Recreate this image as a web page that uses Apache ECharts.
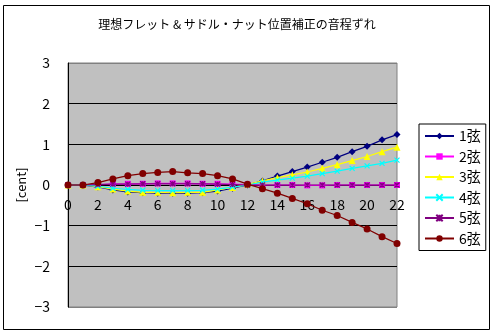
<!DOCTYPE html>
<html><head><meta charset="utf-8">
<script src="https://cdn.jsdelivr.net/npm/echarts@6/dist/echarts.min.js"></script>
<style>html,body{margin:0;padding:0;background:#fff}#c{width:494px;height:334px}</style>
</head><body><div id="c"></div>
<script>
const titleText = '理想フレット & サドル・ナット位置補正の音程ずれ';
const frets = ['0','1','2','3','4','5','6','7','8','9','10','11','12','13','14','15','16','17','18','19','20','21','22'];
const yTicks = [-3,-2,-1,0,1,2,3];
const names = ['1弦','2弦','3弦','4弦','5弦','6弦'];
const s1 = [0,0,-0.05,-0.12,-0.17,-0.19,-0.2,-0.2,-0.2,-0.19,-0.15,-0.08,0,0.1,0.22,0.33,0.44,0.56,0.68,0.82,0.95,1.11,1.24];
const s2 = [0,0,0.01,0.02,0.03,0.03,0.04,0.04,0.04,0.03,0.03,0.02,0.01,0,0,0,-0.01,-0.01,0,0,0,0,0];
const s3 = [0,0,-0.04,-0.1,-0.15,-0.18,-0.18,-0.19,-0.18,-0.18,-0.12,-0.06,0.01,0.1,0.18,0.25,0.32,0.41,0.5,0.6,0.7,0.82,0.93];
const s4 = [0,0,-0.03,-0.08,-0.11,-0.13,-0.14,-0.14,-0.14,-0.13,-0.1,-0.05,0,0.07,0.12,0.17,0.22,0.28,0.34,0.41,0.47,0.53,0.61];
const s5 = [0,0,0.01,0.02,0.02,0.03,0.03,0.03,0.03,0.03,0.02,0.01,0,0,0,0,0,0,0,0,0,0,0];
const s6 = [0,0,0.06,0.15,0.23,0.28,0.31,0.33,0.30,0.28,0.23,0.15,0.02,-0.09,-0.20,-0.33,-0.46,-0.62,-0.75,-0.92,-1.08,-1.27,-1.44];
const seriesData = [s1,s2,s3,s4,s5,s6];
const colors = ['#000080','#ff00ff','#ffff00','#00ffff','#800080','#800000'];
const symbols = ['diamond','rect','triangle','path://M0,0 L10,10 M10,0 L0,10','path://M0,0 L10,10 M10,0 L0,10 M5,0 L5,10','circle'];
const sizes = [7,6,7,5,5,7];
const FONT = '"Noto Sans CJK JP", sans-serif';
const chart = echarts.init(document.getElementById('c'), null, {renderer:'canvas'});
chart.setOption({
  animation:false,
  backgroundColor:'#fff',
  textStyle:{fontFamily:FONT},
  title:{text:titleText,left:232,textAlign:'center',top:13,textStyle:{fontSize:12,fontWeight:'normal',color:'#000',fontFamily:FONT}},
  graphic:[{type:'rect',shape:{x:3.5,y:5.5,width:486,height:324},style:{fill:'none',stroke:'#000',lineWidth:1},silent:true,z:-1}],
  grid:{left:68,right:97,top:63,bottom:27,show:true,backgroundColor:'#c0c0c0',borderColor:'#808080',borderWidth:1},
  legend:{orient:'vertical',left:419,top:124,padding:[5,5,5,5],itemWidth:29,itemHeight:8,itemGap:6.5,
    borderColor:'#000',borderWidth:1,data:names,
    textStyle:{fontSize:14,color:'#000',fontFamily:FONT,lineHeight:14}},
  xAxis:{type:'category',data:frets,boundaryGap:false,offset:-122,
    axisLine:{onZero:false,lineStyle:{color:'#000',width:1}},axisTick:{show:false},
    axisLabel:{interval:1,fontSize:14,color:'#000',margin:13,fontFamily:FONT},splitLine:{show:false}},
  yAxis:{type:'value',min:-3,max:3,interval:1,name:'[cent]',nameLocation:'middle',nameRotate:90,nameGap:40,nameMoveOverlap:false,
    nameTextStyle:{fontSize:13,color:'#000',fontFamily:FONT},
    axisLine:{show:true,onZero:false,lineStyle:{color:'#000'}},axisTick:{show:false},
    axisLabel:{fontSize:14,color:'#000',margin:18,fontFamily:FONT,formatter:function(v){return yTicks.indexOf(v)>=0?(v<0?'\u2212'+(-v):String(v)):'';}},
    splitLine:{show:true,lineStyle:{color:['#808080','#000','#000','#000','#000','#000','#808080'],width:1}}},
  series:names.map(function(n,i){return {
    name:n,type:'line',data:seriesData[i],symbol:symbols[i],symbolSize:sizes[i],
    lineStyle:{color:colors[i],width:1.2},
    itemStyle:{color:colors[i],borderColor:colors[i],borderWidth:(i===3||i===4)?1.2:0},
    z:2+i};})
});
</script></body></html>
